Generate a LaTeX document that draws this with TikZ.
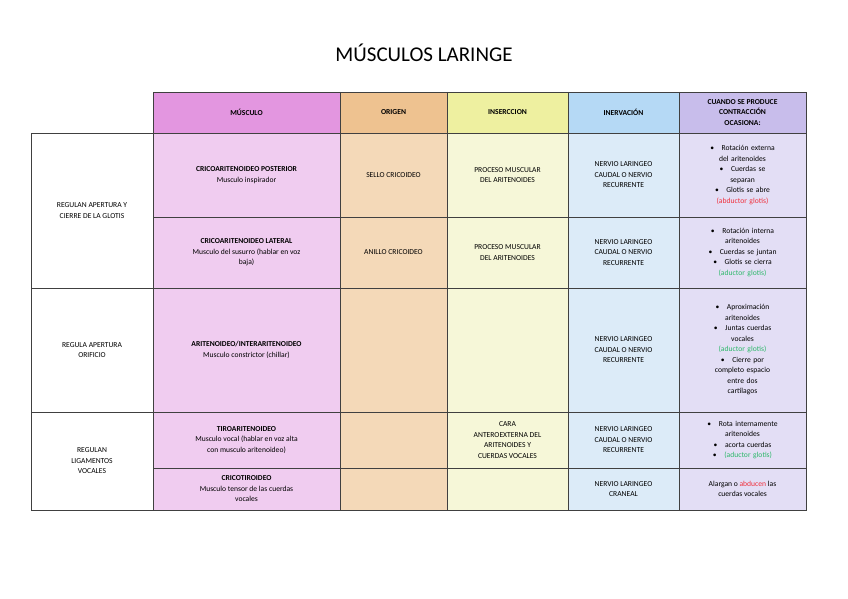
\documentclass[tikz,border=0pt]{standalone}
\usepackage{fontspec}
\setmainfont{Carlito}
\definecolor{hA}{HTML}{E396E0}\definecolor{bA}{HTML}{F0CCF0}
\definecolor{hB}{HTML}{EEC290}\definecolor{bB}{HTML}{F4D9B8}
\definecolor{hC}{HTML}{EEF0A0}\definecolor{bC}{HTML}{F6F7D8}
\definecolor{hD}{HTML}{B5D9F5}\definecolor{bD}{HTML}{DCEBF8}
\definecolor{hE}{HTML}{C8BDEB}\definecolor{bE}{HTML}{E3DEF5}
\definecolor{rojo}{HTML}{F0303C}\definecolor{verde}{HTML}{2DB86A}
\begin{document}
\begin{tikzpicture}[x=1pt,y=-1pt,
  txt/.style={align=center,font=\fontsize{7.6}{10.5}\selectfont,inner sep=0pt},
  hd/.style={txt,font=\fontsize{7.6}{10.5}\selectfont\bfseries},
  grid/.style={draw=black!75,line width=0.6pt}]
\useasboundingbox (0,0) rectangle (848,599);
\node[font=\fontsize{21}{24}\selectfont] (title) at (424,53) {MÚSCULOS LARINGE};
% fills
\def\col#1#2#3#4{\fill[#3] (#1,92) rectangle (#2,133); \fill[#4] (#1,133) rectangle (#2,510);}
\col{153}{340}{hA}{bA}\col{340}{447}{hB}{bB}\col{447}{568}{hC}{bC}\col{568}{679}{hD}{bD}\col{679}{806}{hE}{bE}
% grid
\draw[grid] (153,92) rectangle (806,510);
\draw[grid] (31,133) rectangle (153,510);
\foreach \x in {340,447,568,679} \draw[grid] (\x,92) -- (\x,510);
\draw[grid] (31,133) -- (806,133);
\draw[grid] (31,288) -- (806,288);
\draw[grid] (31,412) -- (806,412);
\draw[grid] (153,217) -- (806,217);
\draw[grid] (153,468) -- (806,468);
% headers
\node[hd] (h1) at (246.5,112.5) {MÚSCULO};
\node[hd] (h2) at (393.5,112.5) {ORIGEN};
\node[hd] (h3) at (507.5,112.5) {INSERCCION};
\node[hd] (h4) at (623.5,112.5) {INERVACIÓN};
\node[hd] (h5) at (742.5,112.5) {CUANDO SE PRODUCE\\CONTRACCIÓN\\OCASIONA:};
% left groups
\node[txt] (g1) at (92,210.5) {REGULAN APERTURA Y\\CIERRE DE LA GLOTIS};
\node[txt] (g2) at (92,350) {REGULA APERTURA\\ORIFICIO};
\node[txt] (g3) at (92,461) {REGULAN\\LIGAMENTOS\\VOCALES};
% row 1
\node[txt] (m1) at (246.5,175) {\textbf{CRICOARITENOIDEO POSTERIOR}\\Musculo inspirador};
\node[txt] (o1) at (393.5,175) {SELLO CRICOIDEO};
\node[txt] (i1) at (507.5,175) {PROCESO MUSCULAR\\DEL ARITENOIDES};
\node[txt] (n1) at (623.5,175) {NERVIO LARINGEO\\CAUDAL O NERVIO\\RECURRENTE};
\node[txt,text width=100pt] (c1) at (742.5,175) {\textbullet\quad Rotación externa\\del aritenoides\\\textbullet\quad Cuerdas se\\separan\\\textbullet\quad Glotis se abre\\\textcolor{rojo}{(abductor glotis)}};
% row 2
\node[txt] (m2) at (246.5,252.5) {\textbf{CRICOARITENOIDEO LATERAL}\\Musculo del susurro (hablar en voz\\baja)};
\node[txt] (o2) at (393.5,252.5) {ANILLO CRICOIDEO};
\node[txt] (i2) at (507.5,252.5) {PROCESO MUSCULAR\\DEL ARITENOIDES};
\node[txt] (n2) at (623.5,252.5) {NERVIO LARINGEO\\CAUDAL O NERVIO\\RECURRENTE};
\node[txt,text width=100pt] (c2) at (742.5,252.5) {\textbullet\quad Rotación interna\\aritenoides\\\textbullet\quad Cuerdas se juntan\\\textbullet\quad Glotis se cierra\\\textcolor{verde}{(aductor glotis)}};
% row 3
\node[txt] (m3) at (246.5,350) {\textbf{ARITENOIDEO/INTERARITENOIDEO}\\Musculo constrictor (chillar)};
\node[txt] (n3) at (623.5,350) {NERVIO LARINGEO\\CAUDAL O NERVIO\\RECURRENTE};
\node[txt,text width=100pt] (c3) at (742.5,350) {\textbullet\quad Aproximación\\aritenoides\\\textbullet\quad Juntas cuerdas\\vocales\\\textcolor{verde}{(aductor glotis)}\\\textbullet\quad Cierre por\\completo espacio\\entre dos\\cartílagos};
% row 4
\node[txt] (m4) at (246.5,440) {\textbf{TIROARITENOIDEO}\\Musculo vocal (hablar en voz alta\\con musculo aritenoideo)};
\node[txt] (i4) at (507.5,440) {CARA\\ANTEROEXTERNA DEL\\ARITENOIDES Y\\CUERDAS VOCALES};
\node[txt] (n4) at (623.5,440) {NERVIO LARINGEO\\CAUDAL O NERVIO\\RECURRENTE};
\node[txt,text width=100pt] (c4) at (742.5,440) {\textbullet\quad Rota internamente\\aritenoides\\\textbullet\quad acorta cuerdas\\\textbullet\quad \textcolor{verde}{(aductor glotis)}};
% row 5
\node[txt] (m5) at (246.5,489) {\textbf{CRICOTIROIDEO}\\Musculo tensor de las cuerdas\\vocales};
\node[txt] (n5) at (623.5,489) {NERVIO LARINGEO\\CRANEAL};
\node[txt] (c5) at (742.5,489) {Alargan o \textcolor{rojo}{abducen} las\\cuerdas vocales};
\end{tikzpicture}
\end{document}
